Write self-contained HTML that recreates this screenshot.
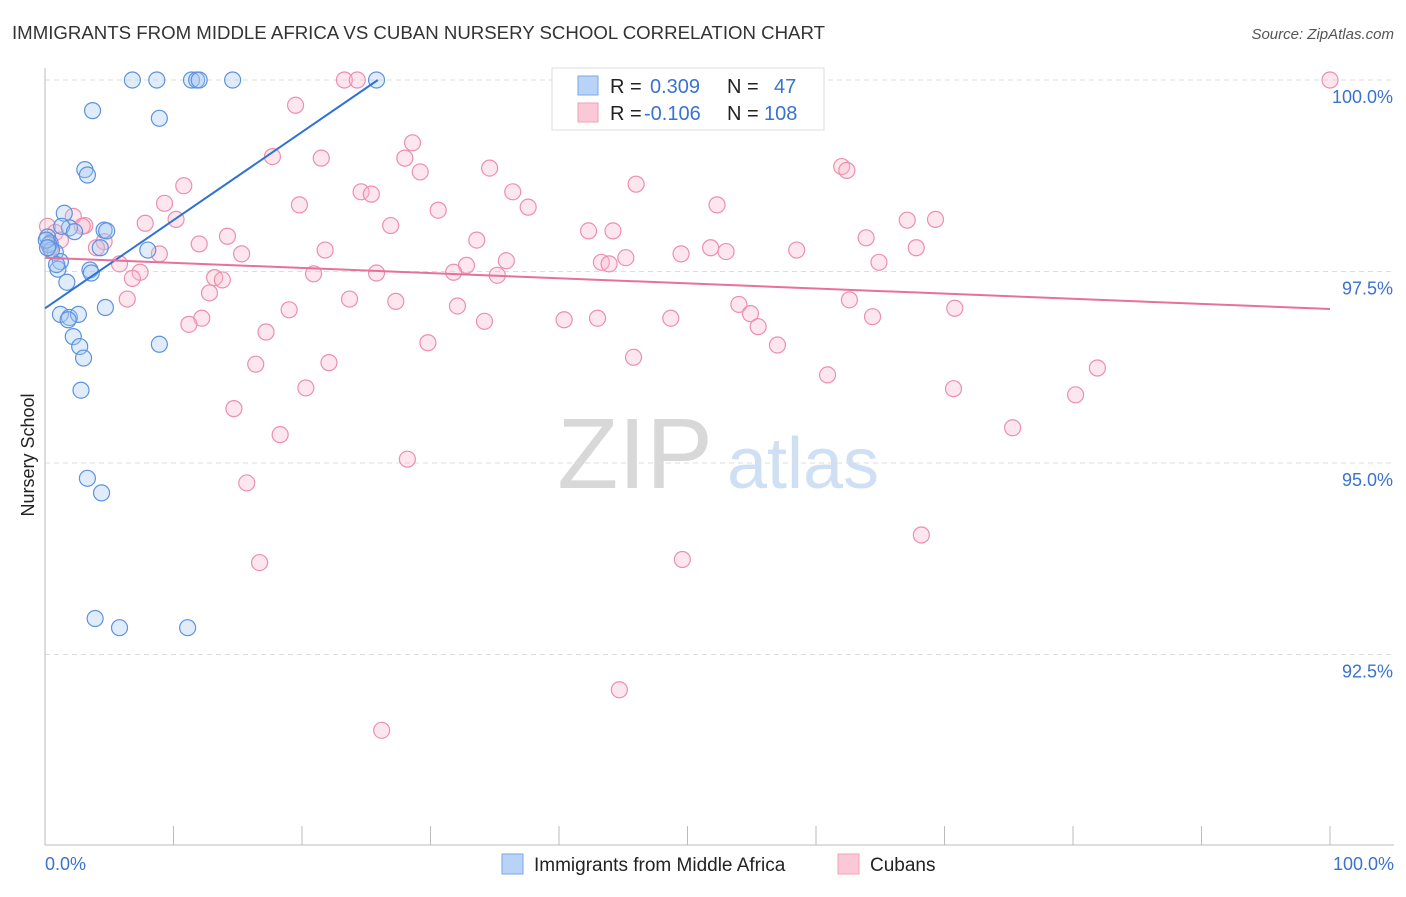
<!DOCTYPE html>
<html><head><meta charset="utf-8"><style>
body{margin:0;background:#fff;font-family:"Liberation Sans",sans-serif;}
svg text{font-family:"Liberation Sans",sans-serif;}
</style></head><body>
<svg id="c" width="1406" height="892">
<text x="12" y="39" font-size="18" fill="#333" textLength="813" lengthAdjust="spacingAndGlyphs">IMMIGRANTS FROM MIDDLE AFRICA VS CUBAN NURSERY SCHOOL CORRELATION CHART</text>
<text x="1394" y="39" font-size="15" fill="#555" font-style="italic" text-anchor="end">Source: ZipAtlas.com</text>
<text x="34" y="455" font-size="18" fill="#222" text-anchor="middle" transform="rotate(-90 34 455)">Nursery School</text>
<g><text x="635" y="488" font-size="100" fill="#d8d8d8" font-family="Liberation Serif" text-anchor="middle">ZIP</text><text x="803" y="488" font-size="72" fill="#cfe0f5" text-anchor="middle">atlas</text></g>
<g id="grid"></g><g id="axes"></g><g id="pts"></g><g id="lines"></g>
<g>
<rect x="552" y="68" width="272" height="62" fill="#fff" stroke="#ddd"/>
<rect x="578" y="76" width="20" height="19" fill="#b8d3f5" stroke="#7aa8e8"/>
<rect x="578" y="103" width="20" height="19" fill="#fbc8d8" stroke="#f0a0b8"/>
<text x="610" y="93" font-size="20" fill="#222">R = </text><text x="650" y="93" font-size="20" fill="#3a72d0">0.309</text>
<text x="727" y="93" font-size="20" fill="#222">N = </text><text x="774" y="93" font-size="20" fill="#3a72d0">47</text>
<text x="610" y="120" font-size="20" fill="#222">R = </text><text x="644" y="120" font-size="20" fill="#3a72d0">-0.106</text>
<text x="727" y="120" font-size="20" fill="#222">N = </text><text x="764" y="120" font-size="20" fill="#3a72d0">108</text>
</g>
<g>
<rect x="502" y="854" width="21" height="20" fill="#b8d3f5" stroke="#7aa8e8"/>
<text x="534" y="871" font-size="19" fill="#222">Immigrants from Middle Africa</text>
<rect x="838" y="854" width="21" height="20" fill="#fbc8d8" stroke="#f0a0b8"/>
<text x="870" y="871" font-size="19" fill="#222">Cubans</text>
</g>
</svg>
<script>
const yTicks=[100,97.5,95,92.5];
const yTickLabels=["100.0%","97.5%","95.0%","92.5%"];
const blueX=[6.8,8.7,11.4,11.8,12.0,14.6,25.8,3.7,8.9,3.1,3.3,1.5,1.9,4.6,4.8,0.2,0.4,0.8,4.3,8.0,1.2,1.0,3.5,3.6,1.7,4.7,1.2,1.9,2.6,1.8,2.2,2.7,3.0,8.9,2.8,3.3,4.4,3.9,5.8,11.1,0.3,0.5,0.9,1.3,2.3,0.1,0.2];
const blueY=[100,100,100,100,100,100,100,99.6,99.5,98.83,98.76,98.26,98.07,98.04,98.03,97.95,97.87,97.75,97.81,97.78,97.63,97.53,97.52,97.48,97.36,97.03,96.94,96.9,96.94,96.87,96.65,96.52,96.37,96.55,95.95,94.80,94.61,92.97,92.85,92.85,97.85,97.78,97.59,98.09,98.02,97.91,97.81];
const pinkX=[100,23.3,24.3,19.5,28.6,17.7,21.5,28.0,29.2,34.6,62.0,62.4,10.8,46.0,24.6,25.4,36.4,19.8,30.6,37.6,52.3,9.3,2.2,7.8,10.2,26.9,67.1,69.3,14.2,42.3,44.2,33.6,63.9,12.0,21.8,51.8,53.0,58.5,67.8,15.3,8.9,4.6,4.0,5.8,7.4,6.8,35.9,32.8,43.3,43.9,45.2,49.5,64.9,20.9,25.8,31.8,35.2,13.2,13.8,12.8,6.4,23.7,27.3,32.1,54.0,62.6,70.8,19.0,54.9,12.2,11.2,34.2,40.4,43.0,48.7,55.5,64.4,17.2,29.8,57.0,16.4,22.1,45.8,20.3,60.9,70.7,80.2,81.9,14.7,18.3,75.3,28.2,15.7,68.2,49.6,16.7,44.7,26.2,0.2,0.8,1.2,0.4,3.1,2.9];
const pinkY=[100,100,100,99.67,99.18,99.0,98.98,98.98,98.8,98.85,98.87,98.82,98.62,98.64,98.54,98.51,98.54,98.37,98.3,98.34,98.37,98.39,98.22,98.13,98.18,98.1,98.17,98.18,97.96,98.03,98.03,97.91,97.94,97.86,97.78,97.81,97.76,97.78,97.81,97.73,97.73,97.89,97.81,97.6,97.49,97.41,97.64,97.58,97.62,97.6,97.68,97.73,97.62,97.47,97.48,97.49,97.45,97.42,97.39,97.22,97.14,97.14,97.11,97.05,97.07,97.13,97.02,97.0,96.95,96.89,96.81,96.85,96.87,96.89,96.89,96.78,96.91,96.71,96.57,96.54,96.29,96.31,96.38,95.98,96.15,95.97,95.89,96.24,95.71,95.37,95.46,95.05,94.74,94.06,93.74,93.7,92.04,91.51,98.09,98.01,97.91,97.81,98.1,98.09];
const blueTrend=[[0,97.02],[25.9,100]];
const pinkTrend=[[0,97.68],[100,97.01]];
const NS="http://www.w3.org/2000/svg";
const X=v=>45+v*12.85, Y=v=>80+(100-v)/2.5*191.5;
function mk(t,a,p){const e=document.createElementNS(NS,t);for(const k in a)e.setAttribute(k,a[k]);p.appendChild(e);return e;}
const grid=document.getElementById('grid'),axes=document.getElementById('axes'),pts=document.getElementById('pts'),lines=document.getElementById('lines');
yTicks.forEach((t,i)=>{
 const l=mk('line',{x1:45,x2:1394,y1:Y(t),y2:Y(t),stroke:'#ddd','stroke-dasharray':'5,4'},grid);
 
 
 const tx=mk('text',{x:1393,y:Y(t)+23,'font-size':18,fill:'#3a72d0','text-anchor':'end'},axes);
 tx.textContent=yTickLabels[i];
 
 
});
const ax=mk('line',{x1:45,x2:1394,y1:845,y2:845,stroke:'#bbb'},axes);


const ay=mk('line',{x1:45,x2:45,y1:68,y2:845,stroke:'#bbb'},axes);


for(let i=0;i<=10;i++){const t=mk('line',{x1:X(i*10),x2:X(i*10),y1:826,y2:845,stroke:'#bbb'},axes);
 
 }
[["0.0%",45,'start'],["100.0%",1394,'end']].forEach(a=>{const t=mk('text',{x:a[1],y:870,'font-size':18,fill:'#3a72d0','text-anchor':a[2]},axes);t.textContent=a[0];
 
 });
function dots(xs,ys,fill,stroke,name){xs.forEach((x,i)=>{const c=mk('circle',{cx:X(x),cy:Y(ys[i]),r:8,fill:fill,'fill-opacity':0.35,stroke:stroke,'stroke-width':1.2},pts);
 
 });}
dots(pinkX,pinkY,'#f9b8cc','#ec8fae','cubans-point');
dots(blueX,blueY,'#a9c9f2','#5b93e0','middle-africa-point');
const lb=mk('line',{x1:X(blueTrend[0][0]),y1:Y(blueTrend[0][1]),x2:X(blueTrend[1][0]),y2:Y(blueTrend[1][1]),stroke:'#2f72d6','stroke-width':2},lines);


const lp=mk('line',{x1:X(pinkTrend[0][0]),y1:Y(pinkTrend[0][1]),x2:X(pinkTrend[1][0]),y2:Y(pinkTrend[1][1]),stroke:'#e8709a','stroke-width':2},lines);


</script>
</body></html>
